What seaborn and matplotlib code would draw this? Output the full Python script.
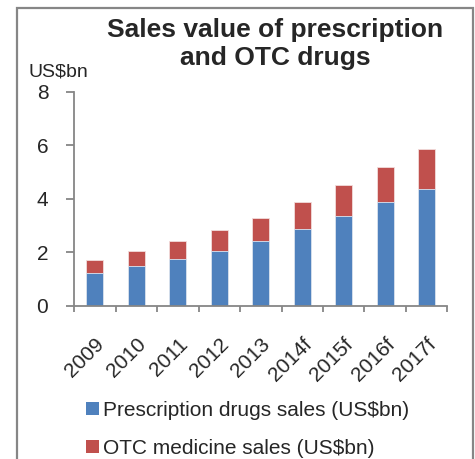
import matplotlib
matplotlib.use("Agg")
import matplotlib.pyplot as plt
import seaborn as sns
import pandas as pd
from matplotlib.patches import Rectangle, Patch

years = ["2009", "2010", "2011", "2012", "2013", "2014f", "2015f", "2016f", "2017f"]
prescription = [1.22, 1.49, 1.76, 2.06, 2.42, 2.86, 3.34, 3.87, 4.38]
otc = [0.48, 0.54, 0.64, 0.76, 0.87, 1.03, 1.19, 1.33, 1.50]

blue = "#4F81BD"
red = "#C0504D"
grey = "#868686"

sns.set_theme(style="white")
plt.rcParams["font.family"] = ["Liberation Sans", "DejaVu Sans"]

df = pd.DataFrame({"year": years, "rx": prescription, "otc": otc})
df["total"] = df["rx"] + df["otc"]

fig = plt.figure(figsize=(4.75, 4.59), dpi=100)
ax = fig.add_axes([0.1558, 0.3344, 0.7863, 0.4654])

sns.barplot(data=df, x="year", y="total", color=red, width=0.4, saturation=1,
            edgecolor="#F2DCDB", linewidth=0.6, ax=ax)
sns.barplot(data=df, x="year", y="rx", color=blue, width=0.4, saturation=1,
            edgecolor="#DCE6F2", linewidth=0.6, ax=ax)

ax.set_xlim(-0.5, 8.5)
ax.set_ylim(0, 8)
ax.set_yticks([0, 2, 4, 6, 8])
ax.set_xlabel("")
ax.set_ylabel("")
for s in ["top", "right"]:
    ax.spines[s].set_visible(False)
for s in ["left", "bottom"]:
    ax.spines[s].set_color(grey)
    ax.spines[s].set_linewidth(1.3)

ax.tick_params(axis="y", which="major", direction="out", length=5.5, width=1.3,
               color=grey, labelsize=15, pad=13, left=True)
ax.set_xticks(range(len(years)))
ax.set_xticklabels(years, rotation=45, ha="right", rotation_mode="anchor")
ax.tick_params(axis="x", which="major", length=0, labelsize=15, pad=21)
ax.set_xticks([i - 0.5 for i in range(len(years) + 1)], minor=True)
ax.tick_params(axis="x", which="minor", direction="out", length=4, width=1.3,
               color=grey, bottom=True)

fig.text(28 / 475, 1 - 76 / 459, "US$bn", fontsize=14, ha="left", va="baseline")
fig.text(0.579, 1 - 37 / 459, "Sales value of prescription", fontsize=19,
         fontweight="bold", ha="center", va="baseline")
fig.text(0.579, 1 - 65 / 459, "and OTC drugs", fontsize=19,
         fontweight="bold", ha="center", va="baseline")

handles = [Patch(facecolor=blue, edgecolor="none", label="Prescription drugs sales (US$bn)"),
           Patch(facecolor=red, edgecolor="none", label="OTC medicine sales (US$bn)")]
fig.legend(handles=handles, loc="upper left", bbox_to_anchor=(86 / 475, 1 - 401 / 459),
           frameon=False, fontsize=15, handlelength=0.6, handleheight=0.6,
           handletextpad=0.2, labelspacing=0.92, borderaxespad=0, borderpad=0)

fig.patches.append(Rectangle((0.0368, -0.02), 0.959, 1.0026, transform=fig.transFigure,
                             fill=False, edgecolor=grey, linewidth=1.6))

fig.savefig("out.png", dpi=100)
